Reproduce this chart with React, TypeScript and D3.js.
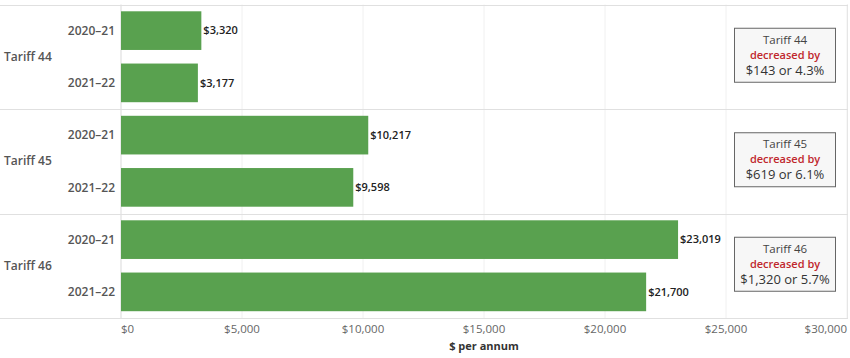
import React from "react";
import * as d3 from "d3";

const tariffs = ["Tariff 44", "Tariff 45", "Tariff 46"];
const years = ["2020–21", "2021–22"];
const values2020 = [3320, 10217, 23019];
const values2021 = [3177, 9598, 21700];
const changeText = ["$143 or 4.3%", "$619 or 6.1%", "$1,320 or 5.7%"];
const xTicks = [0, 5000, 10000, 15000, 20000, 25000, 30000];

const W = 850;
const H = 358;
const FONT = "'Open Sans', 'Noto Sans', sans-serif";

export default function App() {
  const x = d3.scaleLinear().domain([0, 30000]).range([121, 847]);
  const yOuter = d3.scaleBand<string>().domain(tariffs).range([4.5, 318]).padding(0);
  const ph = yOuter.bandwidth();
  const yInner = d3.scaleBand<string>().domain(years).range([0, ph]).paddingInner(0.26).paddingOuter(0.13);
  const fmt = (v: number) => "$" + d3.format(",")(v);
  const rows = tariffs.map((t, i) => ({ t, vals: [values2020[i], values2021[i]], change: changeText[i] }));

  return (
    <svg width={W} height={H} style={{ position: "absolute", left: 0, top: 0, background: "#fff" }} fontFamily={FONT}>
      {xTicks.map((t) => (
        <line key={"g" + t} x1={x(t)} x2={x(t)} y1={4.5} y2={318} stroke={t === 0 ? "#d9d9d9" : "#f0f0f0"} strokeWidth={1} />
      ))}
      <line x1={847.5} x2={847.5} y1={4.5} y2={318} stroke="#e6e6e6" />
      {[...tariffs.map((t) => yOuter(t)!), 318].map((y, i) => (
        <line key={"s" + i} x1={0} x2={848} y1={Math.round(y) + 0.5} y2={Math.round(y) + 0.5} stroke="#e0e0e0" />
      ))}
      {rows.map((r) => {
        const y0 = yOuter(r.t)!;
        const cy = y0 + ph / 2;
        return (
          <g key={r.t}>
            <text x={4} y={cy} dy="0.35em" fontSize={12} fontWeight={600} fill="#555">{r.t}</text>
            {years.map((yr, j) => {
              const by = y0 + yInner(yr)!;
              const bh = yInner.bandwidth();
              const v = r.vals[j];
              return (
                <g key={yr}>
                  <text x={115} y={by + bh / 2} dy="0.35em" textAnchor="end" fontSize={12} fontWeight={600} fill="#555">{yr}</text>
                  <rect x={x(0)} y={by} width={x(v) - x(0)} height={bh} fill="#59a14f" />
                  <text x={x(v) + 2} y={by + bh / 2} dy="0.35em" fontSize={11} fontWeight={600} fill="#222">{fmt(v)}</text>
                </g>
              );
            })}
            <g transform={`translate(785,${cy - 1})`}>
              <rect x={-50.5} y={-27.5} width={101} height={54} fill="#f7f7f7" stroke="#666" strokeWidth={1} />
              <text x={0} y={-12} textAnchor="middle" fontSize={11.5} fill="#444">{r.t}</text>
              <text x={0} y={3} textAnchor="middle" fontSize={11} fontWeight={600} fill="#c0272d">decreased by</text>
              <text x={0} y={19} textAnchor="middle" fontSize={13} fill="#333">{r.change}</text>
            </g>
          </g>
        );
      })}
      {xTicks.map((t, i) => (
        <text
          key={"t" + t}
          x={x(t)}
          y={333}
          textAnchor={i === 0 ? "start" : i === xTicks.length - 1 ? "end" : "middle"}
          fontSize={11.5}
          fill="#666"
        >
          {fmt(t)}
        </text>
      ))}
      <text x={(x(0) + x(30000)) / 2} y={350} textAnchor="middle" fontSize={11} fontWeight={700} fill="#333">$ per annum</text>
    </svg>
  );
}
